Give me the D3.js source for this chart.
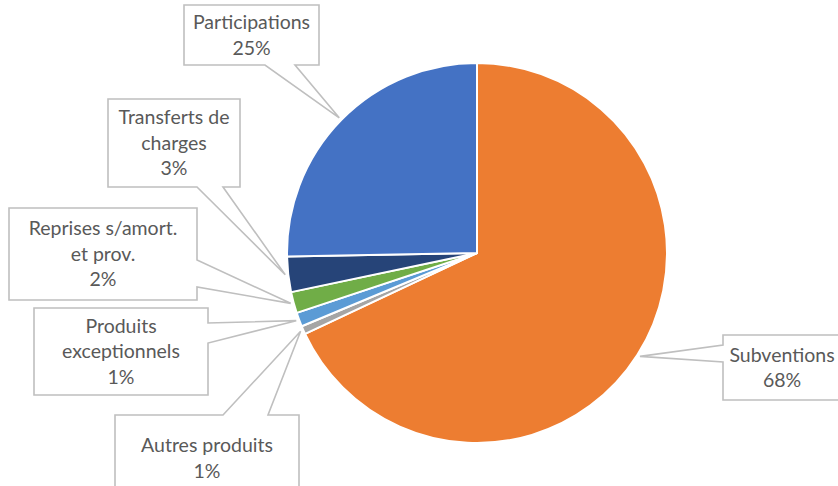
<!DOCTYPE html>
<html>
<head>
<meta charset="utf-8">
<script src="https://cdn.jsdelivr.net/npm/d3@7"></script>
<style>
  body { margin: 0; background: #fff; }
  svg { display: block; }
</style>
</head>
<body>
<div id="chart"></div>
<script>
// data, clockwise from 12 o'clock
var categories = ["Subventions", "Autres produits", "Produits exceptionnels",
  "Reprises s/amort. et prov.", "Transferts de charges", "Participations"]
var values = [68.0, 0.7, 1.2, 1.8, 3.0, 25.3]
var labelLines = [["Subventions"], ["Autres produits"], ["Produits", "exceptionnels"],
  ["Reprises s/amort.", "et prov."], ["Transferts de", "charges"], ["Participations"]]
var colors = ["#ED7D31", "#A5A5A5", "#5B9BD5", "#70AD47", "#264478", "#4472C4"]

// callout boxes (layout only): box + where the pointer leaves the box
var callouts = [
  {x: 723, y: 335, w: 118, h: 65, side: "left", a: 345, b: 362},
  {x: 115, y: 415, w: 184, h: 87, side: "top", a: 223, b: 268},
  {x: 34, y: 308, w: 174, h: 87, side: "right", a: 323, b: 343},
  {x: 9, y: 208, w: 188, h: 92, side: "right", a: 260, b: 287},
  {x: 108, y: 99, w: 132, h: 88, side: "bottom", a: 197, b: 223},
  {x: 184, y: 5, w: 135, h: 60, side: "bottom", a: 265, b: 295}
]

var width = 838, height = 486
var cx = 477, cy = 253, radius = 190

var svg = d3.select("#chart").append("svg")
  .attr("width", width)
  .attr("height", height)

var total = d3.sum(values)
var pie = d3.pie().sort(null).value(d => d)
var arcs = pie(values)

var arc = d3.arc().innerRadius(0).outerRadius(radius)
var pointArc = d3.arc().innerRadius(radius + 3).outerRadius(radius + 3)

var g = svg.append("g").attr("transform", "translate(" + cx + "," + cy + ")")

g.selectAll("path.slice")
  .data(arcs)
  .enter()
  .append("path")
  .attr("class", "slice")
  .attr("d", arc)
  .attr("fill", (d, i) => colors[i])
  .attr("stroke", "#fff")
  .attr("stroke-width", 2)
  .attr("stroke-linejoin", "round")

// callout shape: rectangle with a wedge that runs to the slice
function calloutPath(c, p) {
  var x0 = c.x, y0 = c.y, x1 = c.x + c.w, y1 = c.y + c.h
  var pts
  if (c.side == "left") {
    pts = [[x0, y0], [x1, y0], [x1, y1], [x0, y1], [x0, c.b], p, [x0, c.a]]
  } else if (c.side == "right") {
    pts = [[x0, y0], [x1, y0], [x1, c.a], p, [x1, c.b], [x1, y1], [x0, y1]]
  } else if (c.side == "top") {
    pts = [[x0, y0], [c.a, y0], p, [c.b, y0], [x1, y0], [x1, y1], [x0, y1]]
  } else {
    pts = [[x0, y0], [x1, y0], [x1, y1], [c.b, y1], p, [c.a, y1], [x0, y1]]
  }
  return "M" + pts.map(q => q[0] + "," + q[1]).join("L") + "Z"
}

var labels = svg.append("g")

arcs.forEach(function(d, i) {
  var c = callouts[i]
  var m = pointArc.centroid(d)
  var p = [cx + m[0], cy + m[1]]

  labels.append("path")
    .attr("d", calloutPath(c, p))
    .attr("fill", "#fff")
    .attr("stroke", "#BFBFBF")
    .attr("stroke-width", 1.6)
    .attr("stroke-linejoin", "miter")

  var lines = labelLines[i].concat([Math.round(d.value / total * 100) + "%"])
  var lh = 25.5
  var mid = c.y + c.h / 2
  if (c.side == "top" && c.y + c.h > height) mid = 458
  var t = labels.append("text")
    .attr("x", c.x + c.w / 2)
    .attr("text-anchor", "middle")
    .attr("font-family", "Lato, 'Open Sans', sans-serif")
    .attr("font-size", 19.5)
    .attr("fill", "#595959")
  lines.forEach(function(s, k) {
    t.append("tspan")
      .attr("x", c.x + c.w / 2)
      .attr("y", mid + (k - (lines.length - 1) / 2) * lh)
      .attr("dy", "0.35em")
      .text(s)
  })
})
</script>
</body>
</html>
